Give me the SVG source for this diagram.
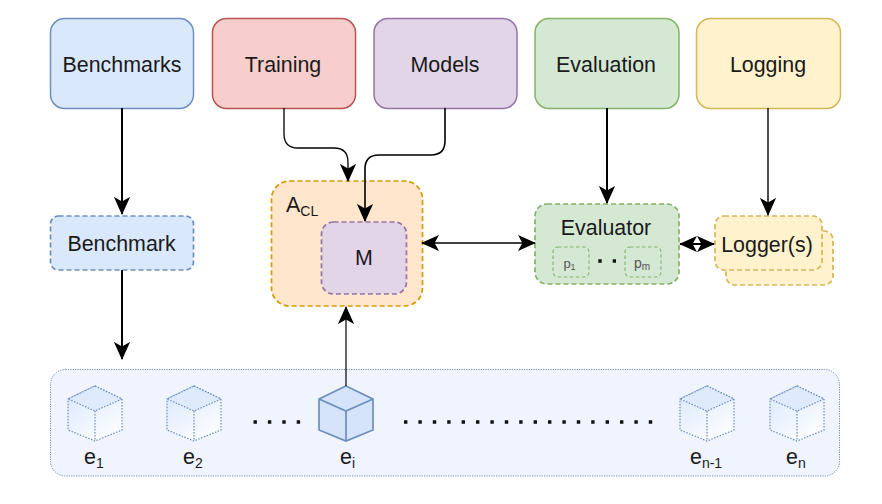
<svg xmlns="http://www.w3.org/2000/svg" width="882" height="504" viewBox="0 0 882 504">
<style>
text{font-family:"Liberation Sans",Arial,sans-serif;fill:#1a1a1a;font-size:21.400px}
.m{text-anchor:middle}
.sub{font-size:14px}
.b{stroke-width:1.500}
.blue{fill:#dae8fc;stroke:#6c8ebf}
.red{fill:#f8cecc;stroke:#b85450}
.pur{fill:#e1d5e7;stroke:#9673a6}
.grn{fill:#d5e8d4;stroke:#82b366}
.yel{fill:#fff2cc;stroke:#d6b656}
.org{fill:#ffe6cc;stroke:#d79b00}
.dash{stroke-dasharray:5 3;stroke-width:1.700}
.conn{fill:none;stroke:#000}
.cdot{stroke:#6c8ebf;stroke-width:1.200;stroke-dasharray:1.500 1.500}
.body{fill:url(#cg)}
.top{fill:#dfeafc}
.cs{fill:#d5e4fa;stroke:#6c8ebf;stroke-width:1.700}
.line{fill:none}
.dots{fill:none;stroke:#111;stroke-width:3.400;stroke-dasharray:3.400 11}
.pbox{fill:none;stroke:#82b366;stroke-width:1.100;stroke-dasharray:3.500 2.500}
.cl{font-size:13px;fill:#555}
</style>
<defs>
<linearGradient id="cg" x1="0.200" y1="0" x2="0.800" y2="1"><stop offset="0" stop-color="#dae8fc"/><stop offset="1" stop-color="#ffffff"/></linearGradient>
<marker id="a" viewBox="0 0 10 10" refX="9.500" refY="5" markerWidth="18" markerHeight="18" markerUnits="userSpaceOnUse" orient="auto-start-reverse"><path d="M0 0.500L10 5L0 9.500L2.500 5Z" fill="#000"/></marker>
</defs>
<g id="env-container"><rect x="50.500" y="369.500" width="789" height="106.500" rx="15" fill="#eff4fe" stroke="#6c8ebf" stroke-width="1" stroke-dasharray="1.200 1.200"/></g>
<g id="benchmarks"><rect class="blue b" x="50.500" y="18.500" width="143" height="90" rx="14"/><text class="m" x="122" y="72">Benchmarks</text></g>
<g id="training"><rect class="red b" x="212.500" y="18.500" width="143" height="90" rx="14"/><text class="m" x="283" y="72">Training</text></g>
<g id="models"><rect class="pur b" x="374" y="18.500" width="143" height="90" rx="14"/><text class="m" x="445" y="72">Models</text></g>
<g id="evaluation"><rect class="grn b" x="535" y="18.500" width="144" height="90" rx="14"/><text class="m" x="606" y="72">Evaluation</text></g>
<g id="logging"><rect class="yel b" x="696.500" y="18.500" width="144" height="90" rx="14"/><text class="m" x="768" y="72">Logging</text></g>
<g id="benchmark"><rect class="blue dash" x="50.500" y="216" width="143" height="54" rx="8"/><text class="m" x="121.500" y="251">Benchmark</text></g>
<g id="acl"><rect class="org dash" x="271.500" y="181" width="151" height="125" rx="18"/><text x="286" y="212">A<tspan class="sub" dy="4">CL</tspan></text></g>
<g id="m"><rect class="pur dash" x="321.500" y="222" width="85" height="72" rx="12"/><text class="m" x="364" y="265">M</text></g>
<g id="evaluator"><rect class="grn dash" x="535" y="204" width="144" height="80" rx="12"/><text class="m" x="606" y="235">Evaluator</text></g>
<g id="p1"><rect class="pbox" x="553" y="247" width="36" height="30" rx="5"/><text class="m cl" x="569.500" y="268">p<tspan style="font-size:9px" dy="2">1</tspan></text></g>
<g id="pm"><rect class="pbox" x="625" y="247" width="36" height="30" rx="5"/><text class="m cl" x="642" y="268" style="font-size:14px">p<tspan style="font-size:10px" dy="2">m</tspan></text></g>
<path d="M598.300 261H616" fill="none" stroke="#111" stroke-width="3.400" stroke-dasharray="3.400 11"/>
<g id="loggers"><rect class="yel dash" x="726" y="231" width="107" height="54" rx="9"/><rect class="yel dash" x="715" y="216" width="107" height="54" rx="9"/><text class="m" x="767" y="252">Logger(s)</text></g>
<g id="e1" transform="translate(95,386)"><path class="cdot body" d="M0 0L27 13V44L0 55L-27 44V13Z"/><path class="cdot top" d="M0 0L27 13L0 25L-27 13Z"/><path class="cdot line" d="M0 25V55"/></g>
<g id="e2" transform="translate(194,386)"><path class="cdot body" d="M0 0L27 13V44L0 55L-27 44V13Z"/><path class="cdot top" d="M0 0L27 13L0 25L-27 13Z"/><path class="cdot line" d="M0 25V55"/></g>
<g id="ei" transform="translate(346,386)"><path class="cs" d="M0 0L27 13V44L0 55L-27 44V13Z"/><path class="cs line" style="fill:none" d="M-27 13L0 25L27 13M0 25V55"/></g>
<g id="en1" transform="translate(707,386)"><path class="cdot body" d="M0 0L27 13V44L0 55L-27 44V13Z"/><path class="cdot top" d="M0 0L27 13L0 25L-27 13Z"/><path class="cdot line" d="M0 25V55"/></g>
<g id="en" transform="translate(797,386)"><path class="cdot body" d="M0 0L27 13V44L0 55L-27 44V13Z"/><path class="cdot top" d="M0 0L27 13L0 25L-27 13Z"/><path class="cdot line" d="M0 25V55"/></g>
<path class="dots" d="M253.500 422H302"/>
<path class="dots" d="M404 422H655"/>
<text x="84" y="464">e<tspan class="sub" dy="4">1</tspan></text>
<text x="183" y="464">e<tspan class="sub" dy="4">2</tspan></text>
<text x="340" y="464">e<tspan class="sub" dy="4">i</tspan></text>
<text x="690" y="464">e<tspan class="sub" dy="4">n-1</tspan></text>
<text x="786" y="464">e<tspan class="sub" dy="4">n</tspan></text>
<g id="connectors" class="conn">
<path d="M122 108V214" stroke-width="2" marker-end="url(#a)"/>
<path d="M122 270V359" stroke-width="2" marker-end="url(#a)"/>
<path d="M284 108V134Q284 148 298 148H334Q348 148 348 162V181" stroke-width="1.300" marker-end="url(#a)"/>
<path d="M445 108V141Q445 155 431 155H379Q365 155 365 169V221" stroke-width="1.600" marker-end="url(#a)"/>
<path d="M607 108V203" stroke-width="2" marker-end="url(#a)"/>
<path d="M768 108V215" stroke-width="1.400" marker-end="url(#a)"/>
<path d="M422 243H535" stroke-width="1.400" marker-start="url(#a)" marker-end="url(#a)"/>
<path d="M680 244H714" stroke-width="1.800" marker-start="url(#a)" marker-end="url(#a)"/>
<path d="M346 386V307" stroke-width="1.200" marker-end="url(#a)"/>
</g>
</svg>
